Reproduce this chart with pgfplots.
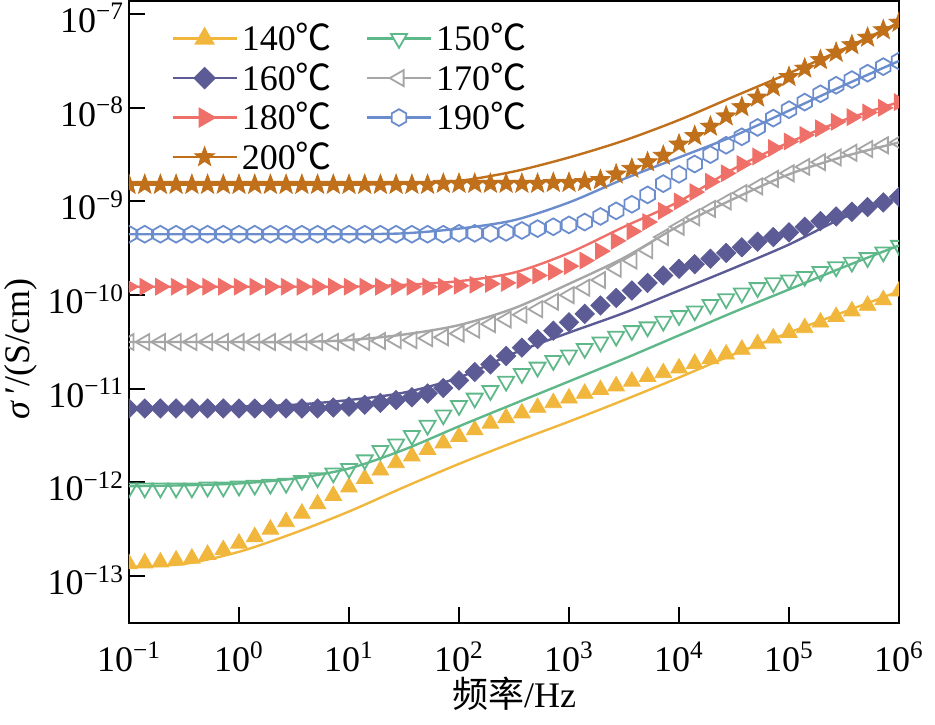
\documentclass[border=0pt]{standalone}
\usepackage{fontspec}
\setmainfont{Liberation Serif}
\newfontfamily\cjk{Noto Sans CJK SC}
\usepackage{pgfplots}
\pgfplotsset{compat=1.18}
\usepackage{pgfplotstable}

\definecolor{c140}{RGB}{240,183,60}
\definecolor{c150}{RGB}{95,184,137}
\definecolor{c160}{RGB}{92,91,150}
\definecolor{c170}{RGB}{166,166,166}
\definecolor{c180}{RGB}{238,112,105}
\definecolor{c190}{RGB}{108,141,205}
\definecolor{c200}{RGB}{192,112,26}

\pgfdeclareplotmark{hexagon}{%
  \pgfpathmoveto{\pgfqpointpolar{90}{\pgfplotmarksize}}%
  \pgfpathlineto{\pgfqpointpolar{150}{\pgfplotmarksize}}%
  \pgfpathlineto{\pgfqpointpolar{210}{\pgfplotmarksize}}%
  \pgfpathlineto{\pgfqpointpolar{270}{\pgfplotmarksize}}%
  \pgfpathlineto{\pgfqpointpolar{330}{\pgfplotmarksize}}%
  \pgfpathlineto{\pgfqpointpolar{30}{\pgfplotmarksize}}%
  \pgfpathclose\pgfusepathqstroke}
\pgfdeclareplotmark{hexagon*}{%
  \pgfpathmoveto{\pgfqpointpolar{90}{\pgfplotmarksize}}%
  \pgfpathlineto{\pgfqpointpolar{150}{\pgfplotmarksize}}%
  \pgfpathlineto{\pgfqpointpolar{210}{\pgfplotmarksize}}%
  \pgfpathlineto{\pgfqpointpolar{270}{\pgfplotmarksize}}%
  \pgfpathlineto{\pgfqpointpolar{330}{\pgfplotmarksize}}%
  \pgfpathlineto{\pgfqpointpolar{30}{\pgfplotmarksize}}%
  \pgfpathclose\pgfusepathqfillstroke}
\pgfdeclareplotmark{fstar}{%
  \pgfpathmoveto{\pgfqpointpolar{90}{\pgfplotmarksize}}%
  \pgfpathlineto{\pgfqpointpolar{126}{0.42\pgfplotmarksize}}%
  \pgfpathlineto{\pgfqpointpolar{162}{\pgfplotmarksize}}%
  \pgfpathlineto{\pgfqpointpolar{198}{0.42\pgfplotmarksize}}%
  \pgfpathlineto{\pgfqpointpolar{234}{\pgfplotmarksize}}%
  \pgfpathlineto{\pgfqpointpolar{270}{0.42\pgfplotmarksize}}%
  \pgfpathlineto{\pgfqpointpolar{306}{\pgfplotmarksize}}%
  \pgfpathlineto{\pgfqpointpolar{342}{0.42\pgfplotmarksize}}%
  \pgfpathlineto{\pgfqpointpolar{18}{\pgfplotmarksize}}%
  \pgfpathlineto{\pgfqpointpolar{54}{0.42\pgfplotmarksize}}%
  \pgfpathclose\pgfusepathqfillstroke}

\newcommand\bigf{\fontsize{18}{21}\selectfont}
\newcommand\dc{{\cjk ℃}}

\pgfplotstableread{
x a b c d e f g
0.1 1.35e-13 8.71e-13 6.17e-12 3.16e-11 1.23e-10 4.47e-10 1.51e-9
0.139 1.38e-13 8.71e-13 6.17e-12 3.16e-11 1.23e-10 4.47e-10 1.51e-9
0.193 1.41e-13 8.71e-13 6.17e-12 3.16e-11 1.23e-10 4.47e-10 1.51e-9
0.268 1.48e-13 8.71e-13 6.17e-12 3.16e-11 1.23e-10 4.47e-10 1.51e-9
0.373 1.55e-13 8.71e-13 6.17e-12 3.16e-11 1.23e-10 4.47e-10 1.51e-9
0.518 1.70e-13 8.91e-13 6.17e-12 3.16e-11 1.23e-10 4.47e-10 1.51e-9
0.720 1.91e-13 8.91e-13 6.17e-12 3.16e-11 1.23e-10 4.47e-10 1.51e-9
1 2.24e-13 9.12e-13 6.17e-12 3.16e-11 1.23e-10 4.47e-10 1.51e-9
1.39 2.63e-13 9.33e-13 6.17e-12 3.16e-11 1.23e-10 4.47e-10 1.51e-9
1.93 3.16e-13 9.55e-13 6.17e-12 3.16e-11 1.23e-10 4.47e-10 1.51e-9
2.68 3.80e-13 9.77e-13 6.17e-12 3.16e-11 1.23e-10 4.47e-10 1.51e-9
3.73 4.68e-13 1.05e-12 6.17e-12 3.16e-11 1.23e-10 4.47e-10 1.51e-9
5.18 5.89e-13 1.12e-12 6.17e-12 3.16e-11 1.23e-10 4.47e-10 1.51e-9
7.20 7.24e-13 1.26e-12 6.31e-12 3.16e-11 1.23e-10 4.47e-10 1.51e-9
10 8.91e-13 1.41e-12 6.46e-12 3.16e-11 1.23e-10 4.47e-10 1.51e-9
13.9 1.10e-12 1.74e-12 6.76e-12 3.16e-11 1.23e-10 4.47e-10 1.51e-9
19.3 1.35e-12 2.19e-12 7.08e-12 3.24e-11 1.23e-10 4.47e-10 1.51e-9
26.8 1.62e-12 2.57e-12 7.59e-12 3.31e-11 1.23e-10 4.47e-10 1.51e-9
37.3 1.91e-12 3.16e-12 8.13e-12 3.31e-11 1.23e-10 4.47e-10 1.51e-9
51.8 2.24e-12 4.07e-12 8.91e-12 3.47e-11 1.23e-10 4.47e-10 1.51e-9
72.0 2.63e-12 5.25e-12 1.02e-11 3.55e-11 1.23e-10 4.47e-10 1.55e-9
100 3.09e-12 6.61e-12 1.23e-11 3.89e-11 1.26e-10 4.57e-10 1.55e-9
139 3.63e-12 7.94e-12 1.51e-11 4.27e-11 1.29e-10 4.57e-10 1.55e-9
193 4.27e-12 9.55e-12 1.82e-11 4.90e-11 1.32e-10 4.57e-10 1.55e-9
268 4.90e-12 1.20e-11 2.24e-11 5.50e-11 1.35e-10 4.68e-10 1.55e-9
373 5.50e-12 1.45e-11 2.75e-11 6.17e-11 1.45e-10 4.90e-10 1.55e-9
518 6.31e-12 1.70e-11 3.39e-11 7.08e-11 1.62e-10 5.13e-10 1.55e-9
720 7.08e-12 2.00e-11 4.17e-11 8.51e-11 1.78e-10 5.37e-10 1.585e-9
1000 7.94e-12 2.29e-11 5.13e-11 1.00e-10 2.04e-10 5.62e-10 1.585e-9
1389 8.91e-12 2.69e-11 6.31e-11 1.20e-10 2.34e-10 6.03e-10 1.62e-9
1931 9.77e-12 3.16e-11 7.76e-11 1.45e-10 2.95e-10 6.92e-10 1.70e-9
2683 1.07e-11 3.63e-11 9.33e-11 1.91e-10 3.80e-10 7.94e-10 1.95e-9
3728 1.20e-11 4.17e-11 1.12e-10 2.34e-10 4.79e-10 9.33e-10 2.24e-9
5179 1.35e-11 4.57e-11 1.35e-10 3.02e-10 6.03e-10 1.175e-9 2.63e-9
7197 1.48e-11 5.25e-11 1.62e-10 4.17e-10 7.94e-10 1.55e-9 3.09e-9
10000 1.66e-11 6.03e-11 1.91e-10 5.37e-10 1.00e-9 1.95e-9 4.07e-9
13895 1.86e-11 6.76e-11 2.14e-10 6.76e-10 1.26e-9 2.51e-9 5.01e-9
19307 2.09e-11 7.94e-11 2.45e-10 8.32e-10 1.62e-9 3.16e-9 6.31e-9
26827 2.34e-11 9.12e-11 2.82e-10 1.00e-9 2.00e-9 3.98e-9 8.13e-9
37276 2.63e-11 1.05e-10 3.24e-10 1.23e-9 2.51e-9 4.90e-9 1.02e-8
51795 3.02e-11 1.20e-10 3.72e-10 1.45e-9 3.02e-9 6.17e-9 1.29e-8
71969 3.47e-11 1.35e-10 4.17e-10 1.74e-9 3.72e-9 7.76e-9 1.66e-8
100000 3.98e-11 1.45e-10 4.68e-10 2.00e-9 4.37e-9 9.55e-9 2.14e-8
138950 4.47e-11 1.58e-10 5.37e-10 2.34e-9 5.13e-9 1.15e-8 2.63e-8
193070 5.13e-11 1.78e-10 6.17e-10 2.63e-9 6.03e-9 1.41e-8 3.24e-8
268270 5.89e-11 2.00e-10 6.92e-10 2.95e-9 7.08e-9 1.74e-8 3.89e-8
372760 6.76e-11 2.24e-10 7.76e-10 3.31e-9 7.94e-9 2.00e-8 4.68e-8
517950 7.76e-11 2.51e-10 8.71e-10 3.63e-9 8.91e-9 2.34e-8 5.62e-8
719690 8.91e-11 2.88e-10 9.77e-10 3.98e-9 1.00e-8 2.75e-8 6.76e-8
1000000 1.10e-10 3.39e-10 1.12e-9 4.27e-9 1.15e-8 3.16e-8 8.13e-8
}\data

\begin{document}
\begin{tikzpicture}
\begin{axis}[
  scale only axis, width=385pt, height=311pt,
  xmode=log, ymode=log,
  xmin=0.1, xmax=1e6, ymin=3.16e-14, ymax=1.38e-7,
  axis line style={line width=1pt},
  tick style={line width=1pt, black},
  major tick length=8pt, tick align=inside,
  xtick pos=bottom, ytick pos=left,
  xminorticks=false, yminorticks=false,
  clip marker paths=true,
  xtick={0.1,1,10,100,1000,10000,100000,1000000},
  xticklabels={10\textsuperscript{−1},10\textsuperscript{0},10\textsuperscript{1},10\textsuperscript{2},10\textsuperscript{3},10\textsuperscript{4},10\textsuperscript{5},10\textsuperscript{6}},
  ytick={1e-13,1e-12,1e-11,1e-10,1e-9,1e-8,1e-7},
  yticklabels={10\textsuperscript{−13},10\textsuperscript{−12},10\textsuperscript{−11},10\textsuperscript{−10},10\textsuperscript{−9},10\textsuperscript{−8},10\textsuperscript{−7}},
  xticklabel style={font=\bigf, anchor=base, yshift=-24pt},
  yticklabel style={font=\bigf, yshift=-2pt, xshift=1pt},
  xlabel={{\cjk 频率}/Hz},
  xlabel style={font=\bigf, at={(axis description cs:0.5,-0.113)}, anchor=center},
  ylabel={\textit{σ}\,′/(S/cm)},
  ylabel style={font=\bigf, at={(axis description cs:-0.14,0.44)}, anchor=center, rotate=0},
  legend columns=2,
  legend cell align=left,
  legend style={draw=none, fill=none, font=\bigf, at={(axis description cs:0,1)}, anchor=north west, xshift=18pt, yshift=-7pt, row sep=0.5pt,
    /tikz/column 2/.style={column sep=15pt}},
  legend image code/.code={\draw[mark repeat=2,mark phase=2,#1] plot coordinates {(0pt,0pt)(16pt,0pt)(32pt,0pt)};},
]
% 140
\addplot[only marks, mark=triangle*, mark size=4.8pt, mark options={draw=c140, fill=c140}, forget plot] table[x=x,y=a]{\data};
\addplot[c140, line width=1.2pt, smooth, legend image post style={mark=triangle*, mark size=4.8pt, mark options={fill=c140}}] coordinates {(0.1,1.26e-13)(0.316,1.35e-13)(1,1.82e-13)(3.16,2.88e-13)(10,4.90e-13)(31.6,8.91e-13)(100,1.58e-12)(316,2.69e-12)(1000,4.47e-12)(3162,7.59e-12)(1e4,1.32e-11)(31623,2.34e-11)(1e5,3.98e-11)(316228,6.61e-11)(1e6,1.10e-10)};
\addlegendentry{140\dc}
% 150
\addplot[only marks, mark=triangle, mark size=4.6pt, mark options={draw=c150, fill=none, line width=0.9pt, rotate=180}, forget plot] table[x=x,y=b]{\data};
\addplot[c150, line width=1.2pt, smooth, legend image post style={mark=triangle*, mark size=4.6pt, mark options={fill=white, line width=0.9pt, rotate=180}}] coordinates {(0.1,9.12e-13)(0.316,9.33e-13)(1,9.77e-13)(3.16,1.10e-12)(10,1.41e-12)(31.6,2.24e-12)(100,3.98e-12)(316,6.92e-12)(1000,1.20e-11)(3162,2.09e-11)(1e4,3.72e-11)(31623,6.61e-11)(1e5,1.15e-10)(316228,2.00e-10)(1e6,3.39e-10)};
\addlegendentry{150\dc}
% 160
\addplot[only marks, mark=square*, mark size=3.4pt, mark options={draw=c160, fill=c160, rotate=45}, forget plot] table[x=x,y=c]{\data};
\addplot[c160, line width=1.2pt, smooth, legend image post style={mark=square*, mark size=3.4pt, mark options={fill=c160, rotate=45}}] coordinates {(0.1,6.31e-12)(0.316,6.31e-12)(1,6.46e-12)(3.16,6.76e-12)(10,7.59e-12)(31.6,9.12e-12)(100,1.32e-11)(316,2.40e-11)(1000,3.98e-11)(3162,6.46e-11)(1e4,1.12e-10)(31623,1.95e-10)(1e5,3.47e-10)(316228,6.76e-10)(1e6,1.10e-9)};
\addlegendentry{160\dc}
% 170
\addplot[only marks, mark=triangle, mark size=4.6pt, mark options={draw=c170, fill=none, line width=0.9pt, rotate=90}, forget plot] table[x=x,y=d]{\data};
\addplot[c170, line width=1.2pt, smooth, legend image post style={mark=triangle*, mark size=4.6pt, mark options={fill=white, line width=0.9pt, rotate=90}}] coordinates {(0.1,3.16e-11)(0.316,3.16e-11)(1,3.16e-11)(3.16,3.16e-11)(10,3.31e-11)(31.6,3.80e-11)(100,4.79e-11)(316,7.24e-11)(1000,1.32e-10)(3162,2.51e-10)(1e4,5.50e-10)(31623,1.07e-9)(1e5,1.95e-9)(316228,3.02e-9)(1e6,4.27e-9)};
\addlegendentry{170\dc}
% 180
\addplot[only marks, mark=triangle*, mark size=4.8pt, mark options={draw=c180, fill=c180, rotate=-90}, forget plot] table[x=x,y=e]{\data};
\addplot[c180, line width=1.2pt, smooth, legend image post style={mark=triangle*, mark size=4.8pt, mark options={fill=c180, rotate=-90}}] coordinates {(0.1,1.23e-10)(0.316,1.23e-10)(1,1.23e-10)(3.16,1.23e-10)(10,1.23e-10)(31.6,1.29e-10)(100,1.41e-10)(316,1.74e-10)(1000,2.82e-10)(3162,5.37e-10)(1e4,1.00e-9)(31623,2.24e-9)(1e5,4.27e-9)(316228,7.41e-9)(1e6,1.15e-8)};
\addlegendentry{180\dc}
% 190
\addplot[only marks, mark=hexagon, mark size=4.2pt, mark options={draw=c190, line width=0.9pt}, forget plot] table[x=x,y=f]{\data};
\addplot[c190, line width=1.2pt, smooth, legend image post style={mark=hexagon*, mark size=4.2pt, mark options={fill=white, line width=0.9pt}}] coordinates {(0.1,4.47e-10)(0.316,4.47e-10)(1,4.47e-10)(3.16,4.47e-10)(10,4.47e-10)(31.6,4.57e-10)(100,5.13e-10)(316,6.31e-10)(1000,9.77e-10)(3162,1.74e-9)(1e4,2.95e-9)(31623,5.01e-9)(1e5,9.33e-9)(316228,1.74e-8)(1e6,3.16e-8)};
\addlegendentry{190\dc}
% 200
\addplot[only marks, mark=fstar, mark size=5.2pt, mark options={draw=c200, fill=c200, line width=0.4pt}, forget plot] table[x=x,y=g]{\data};
\addplot[c200, line width=1.2pt, smooth, legend image post style={mark=fstar, mark size=5.2pt, mark options={fill=c200, line width=0.4pt}}] coordinates {(0.1,1.51e-9)(0.316,1.51e-9)(1,1.51e-9)(3.16,1.51e-9)(10,1.51e-9)(31.6,1.55e-9)(100,1.66e-9)(316,2.09e-9)(1000,2.95e-9)(3162,4.47e-9)(1e4,7.41e-9)(31623,1.32e-8)(1e5,2.34e-8)(316228,4.27e-8)(1e6,8.13e-8)};
\addlegendentry{200\dc}
\coordinate (bl) at (rel axis cs:0,0);
\coordinate (tr) at (rel axis cs:1,1);
\end{axis}
\pgfresetboundingbox
\path[use as bounding box] ([xshift=-64.5pt,yshift=-50.5pt]bl) rectangle ([xshift=18pt,yshift=0.5pt]tr);
\end{tikzpicture}
\end{document}
